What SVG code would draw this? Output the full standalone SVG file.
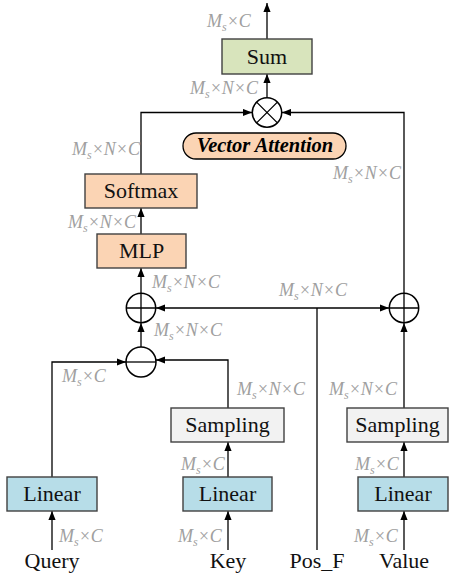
<svg xmlns="http://www.w3.org/2000/svg" width="456" height="580" viewBox="0 0 456 580" font-family="Liberation Serif">
<defs>
<marker id="arr" viewBox="0 0 10 8" markerWidth="9" markerHeight="8" refX="10" refY="4" orient="auto" markerUnits="userSpaceOnUse"><path d="M0,0 L10,4 L0,8 z" fill="#000"/></marker>
<style>
.box{stroke:#404040;stroke-width:1.4}
.t{font-family:'Liberation Serif',serif;font-size:22px;fill:#111;text-anchor:middle}
.lb{font-family:'Liberation Serif',serif;font-size:18px;font-style:italic;fill:#a0a0a0}
.va{font-family:'Liberation Serif',serif;font-size:20.5px;font-weight:bold;font-style:italic;fill:#000;text-anchor:middle}
.sub{font-size:12px}
.ln{fill:none;stroke:#000;stroke-width:1.3}
.op{fill:#fff;stroke:#000;stroke-width:1.5}
.green{fill:#d8e4bc}
.peach{fill:#fbd4b4}
.blue{fill:#b7dde8}
.grey{fill:#f2f2f2}
</style>
</defs>
<rect width="456" height="580" fill="#fff"/>

<g id="connectors">
<path class="ln" d="M267,39 V3" marker-end="url(#arr)"/>
<path class="ln" d="M267,97.5 V74" marker-end="url(#arr)"/>
<path class="ln" d="M141,174 V112.5 H252" marker-end="url(#arr)"/>
<path class="ln" d="M404,293 V112.5 H282" marker-end="url(#arr)"/>
<path class="ln" d="M141,234 V208" marker-end="url(#arr)"/>
<path class="ln" d="M141,293 V268" marker-end="url(#arr)"/>
<path class="ln" d="M141,347 V323" marker-end="url(#arr)"/>
<path class="ln" d="M52,477 V362 H126" marker-end="url(#arr)"/>
<path class="ln" d="M228,408 V360 H156" marker-end="url(#arr)"/>
<path class="ln" d="M228,477 V442" marker-end="url(#arr)"/>
<path class="ln" d="M228,550 V511" marker-end="url(#arr)"/>
<path class="ln" d="M52,550 V511" marker-end="url(#arr)"/>
<path class="ln" d="M317,550 V308"/>
<path class="ln" d="M317,308 H156" marker-end="url(#arr)"/>
<path class="ln" d="M317,308 H389" marker-end="url(#arr)"/>
<path class="ln" d="M404,408 V323" marker-end="url(#arr)"/>
<path class="ln" d="M404,477 V442" marker-end="url(#arr)"/>
<path class="ln" d="M404,550 V511" marker-end="url(#arr)"/>
</g>

<g id="sum"><rect class="box green" x="222" y="39" width="90" height="35"/><text class="t" x="267" y="64">Sum</text></g>
<g id="otimes"><circle class="op" cx="267" cy="112.5" r="14.7"/><path class="ln" d="M256.6,102.1 L277.4,122.9 M277.4,102.1 L256.6,122.9"/></g>
<g id="vector-attention"><rect x="183" y="133" width="163" height="26" rx="13" fill="#fbd4b4" stroke="#000" stroke-width="1.3"/><text class="va" x="265" y="152">Vector Attention</text></g>
<g id="softmax"><rect class="box peach" x="85" y="174" width="112" height="34"/><text class="t" x="141" y="198">Softmax</text></g>
<g id="mlp"><rect class="box peach" x="97" y="234" width="89" height="34"/><text class="t" x="141.5" y="258">MLP</text></g>
<g id="oplus-left"><circle class="op" cx="141" cy="308" r="14.7"/><path class="ln" d="M126.3,308 H155.7 M141,293.3 V322.7"/></g>
<g id="ominus"><circle class="op" cx="141" cy="362" r="15"/><path class="ln" d="M126,362 H156"/></g>
<g id="oplus-right"><circle class="op" cx="404" cy="308" r="14.7"/><path class="ln" d="M389.3,308 H418.7 M404,293.3 V322.7"/></g>
<g id="linear-q"><rect class="box blue" x="7" y="477" width="90" height="34"/><text class="t" x="52" y="501">Linear</text></g>
<g id="sampling-k"><rect class="box grey" x="171" y="408" width="113" height="34"/><text class="t" x="227.5" y="432">Sampling</text></g>
<g id="linear-k"><rect class="box blue" x="183" y="477" width="89" height="34"/><text class="t" x="227.5" y="501">Linear</text></g>
<g id="sampling-v"><rect class="box grey" x="347" y="408" width="101" height="34"/><text class="t" x="397.5" y="432">Sampling</text></g>
<g id="linear-v"><rect class="box blue" x="358" y="477" width="90" height="34"/><text class="t" x="403" y="501">Linear</text></g>

<g id="inputs">
<text class="t" x="52" y="568">Query</text>
<text class="t" x="228" y="568">Key</text>
<text class="t" x="317" y="568">Pos_F</text>
<text class="t" x="404" y="568">Value</text>
</g>

<g id="labels">
<text class="lb" x="207" y="27">M<tspan class="sub" dy="4">s</tspan><tspan dy="-4">×C</tspan></text>
<text class="lb" x="190" y="94">M<tspan class="sub" dy="4">s</tspan><tspan dy="-4">×N×C</tspan></text>
<text class="lb" x="72" y="155">M<tspan class="sub" dy="4">s</tspan><tspan dy="-4">×N×C</tspan></text>
<text class="lb" x="333" y="179">M<tspan class="sub" dy="4">s</tspan><tspan dy="-4">×N×C</tspan></text>
<text class="lb" x="68" y="228">M<tspan class="sub" dy="4">s</tspan><tspan dy="-4">×N×C</tspan></text>
<text class="lb" x="152" y="288">M<tspan class="sub" dy="4">s</tspan><tspan dy="-4">×N×C</tspan></text>
<text class="lb" x="279" y="296">M<tspan class="sub" dy="4">s</tspan><tspan dy="-4">×N×C</tspan></text>
<text class="lb" x="154" y="336">M<tspan class="sub" dy="4">s</tspan><tspan dy="-4">×N×C</tspan></text>
<text class="lb" x="62" y="382">M<tspan class="sub" dy="4">s</tspan><tspan dy="-4">×C</tspan></text>
<text class="lb" x="237" y="395">M<tspan class="sub" dy="4">s</tspan><tspan dy="-4">×N×C</tspan></text>
<text class="lb" x="329" y="395">M<tspan class="sub" dy="4">s</tspan><tspan dy="-4">×N×C</tspan></text>
<text class="lb" x="181" y="470">M<tspan class="sub" dy="4">s</tspan><tspan dy="-4">×C</tspan></text>
<text class="lb" x="355" y="470">M<tspan class="sub" dy="4">s</tspan><tspan dy="-4">×C</tspan></text>
<text class="lb" x="59" y="542">M<tspan class="sub" dy="4">s</tspan><tspan dy="-4">×C</tspan></text>
<text class="lb" x="178" y="542">M<tspan class="sub" dy="4">s</tspan><tspan dy="-4">×C</tspan></text>
<text class="lb" x="354" y="542">M<tspan class="sub" dy="4">s</tspan><tspan dy="-4">×C</tspan></text>
</g>
</svg>
